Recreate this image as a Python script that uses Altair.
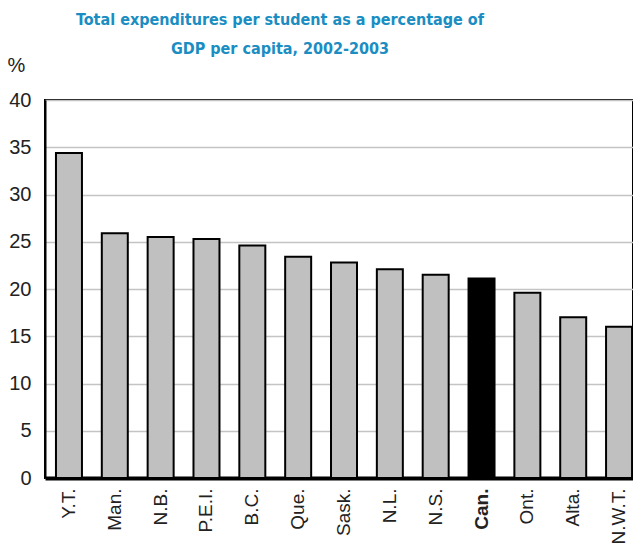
import altair as alt
import pandas as pd

provinces = ["Y.T.", "Man.", "N.B.", "P.E.I.", "B.C.", "Que.", "Sask.", "N.L.", "N.S.", "Can.", "Ont.", "Alta.", "N.W.T."]
values = [34.4, 25.9, 25.5, 25.3, 24.6, 23.4, 22.8, 22.1, 21.5, 21.1, 19.6, 17.0, 16.0]
highlight = ["Can."]
y_ticks = [0, 5, 10, 15, 20, 25, 30, 35, 40]

df = pd.DataFrame({
    "province": provinces,
    "value": values,
    "is_can": [p in highlight for p in provinces],
})

label_font = "Liberation Sans"
title_font = "DejaVu Sans Condensed, Liberation Sans"

chart = alt.Chart(df).mark_bar(stroke="black", strokeWidth=2).encode(
    x=alt.X("province:N", sort=provinces,
            scale=alt.Scale(paddingInner=0.433, paddingOuter=0.13, align=0.92),
            axis=alt.Axis(title=None, labelAngle=-90, labelAlign="right", labelBaseline="middle",
                          labelFontSize=19, labelFont=label_font, labelColor="#222222",
                          labelPadding=10, ticks=False, domain=True, domainColor="black",
                          domainWidth=4,
                          labelFontWeight={"condition": {"test": "datum.value == 'Can.'", "value": "bold"}, "value": "normal"})),
    y=alt.Y("value:Q", scale=alt.Scale(domain=[0, 40], nice=False),
            axis=alt.Axis(values=y_ticks, title="%", titleAngle=0, titleX=-38, titleY=-25,
                          titleAlign="left", titleBaseline="bottom", titleFontSize=20,
                          titleFont=label_font, titleFontWeight="normal", titleColor="#222222",
                          labelFontSize=20, labelFont=label_font, labelColor="#222222",
                          labelPadding=14, ticks=False, domain=True, domainColor="black",
                          domainWidth=2, grid=True, gridColor="#c4c4c4", gridWidth=1.5)),
    color=alt.Color("is_can:N", scale=alt.Scale(domain=[False, True], range=["#c0c0c0", "#000000"]),
                    legend=None),
).properties(
    width=588,
    height=378,
    padding={"left": 37, "top": 92, "right": 0, "bottom": 66},
    autosize=alt.AutoSizeParams(type="none"),
    title=alt.TitleParams(
        text=["Total expenditures per student as a percentage of", "GDP per capita, 2002-2003"],
        font=title_font, fontSize=16, fontWeight="bold", color="#1a8dc2",
        anchor="middle", dx=-59, offset=-2, lineHeight=29,
    ),
).configure_view(stroke="black", strokeWidth=2)

chart.save("out.html", embed_options={"renderer": "svg", "actions": False})
